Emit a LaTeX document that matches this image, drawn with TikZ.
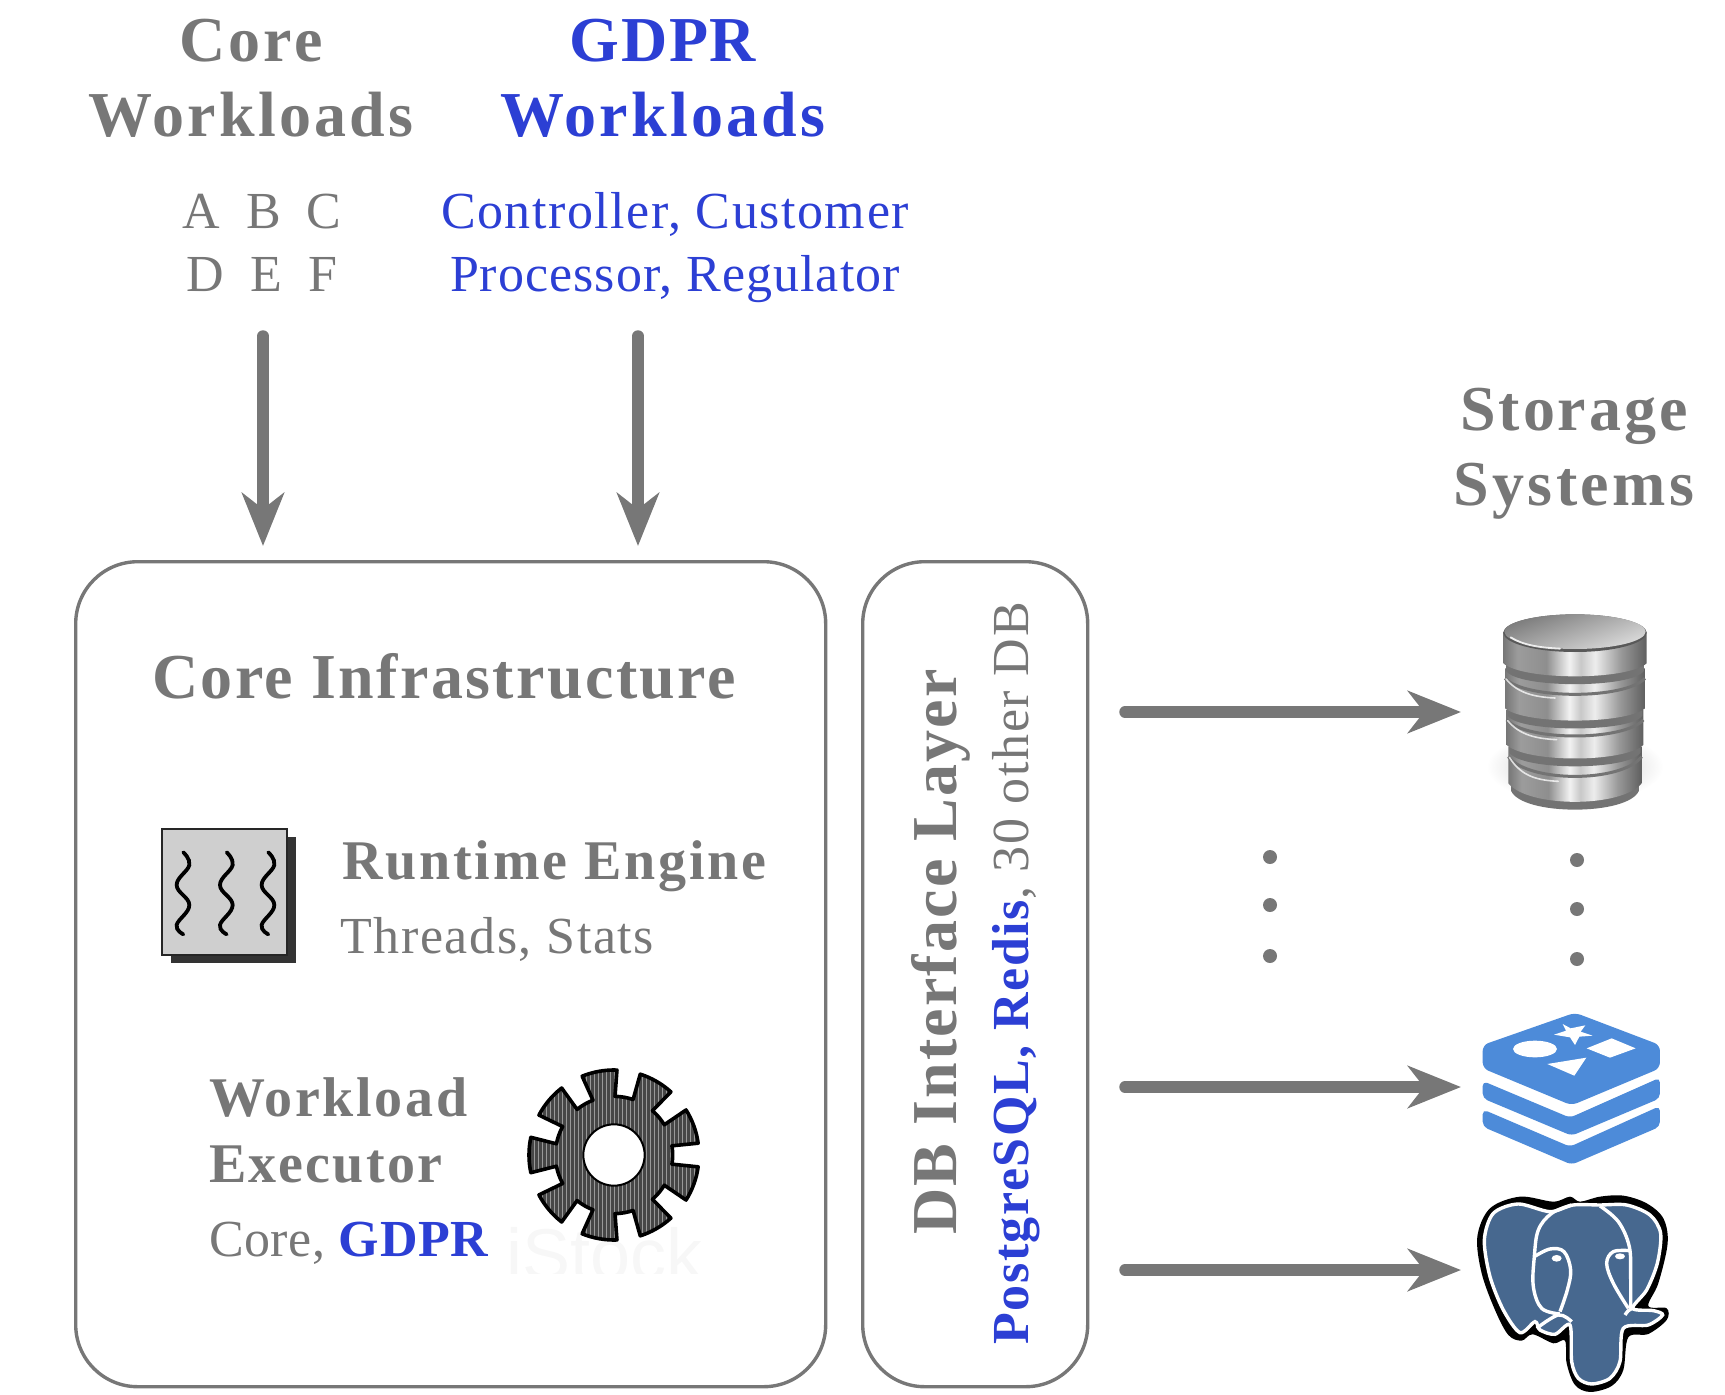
\documentclass[tikz,border=0pt]{standalone}
\usepackage{fontspec}
\setmainfont{Liberation Serif}
\setsansfont{Liberation Sans}
\usetikzlibrary{arrows.meta}
\newcommand{\lsp}[1]{\addfontfeature{LetterSpace=#1}}
\definecolor{dgray}{HTML}{777777}
\definecolor{dblue}{HTML}{2C3FD4}
\definecolor{redisblue}{HTML}{4D8BD9}
\definecolor{pgblue}{HTML}{47688F}
\definecolor{mA}{HTML}{777777}
\definecolor{mB}{HTML}{9C9C9C}
\definecolor{mC}{HTML}{8E8E8E}
\definecolor{mD}{HTML}{F2F2F2}
\definecolor{mE}{HTML}{C8C8C8}
\definecolor{mF}{HTML}{EDEDED}
\definecolor{mG}{HTML}{999999}
\definecolor{mH}{HTML}{5F5F5F}
\pgfdeclarehorizontalshading{metal}{100bp}{color(0bp)=(mA);color(25bp)=(mA);color(30bp)=(mB);color(40bp)=(mC);color(48bp)=(mD);color(52bp)=(mE);color(57bp)=(mF);color(66bp)=(mG);color(75bp)=(mH);color(100bp)=(mH)}
\newcommand{\dblayer}[5]{%
  \fill[black!55] (#1+8,#4-8) -- (#1+8,#4+22) .. controls (#1+40,#5+28) and (#2-40,#5+28) .. (#2-8,#4+22) -- (#2-8,#4-8) -- cycle;
  \shade[shading=metal] (#1,#3) -- (#1,#4) .. controls (#1+60,#5+4) and (#2-60,#5+4) .. (#2,#4) -- (#2,#3) -- cycle;
}
\newcommand{\dbrim}[4]{%
  \draw[black!55,line width=3pt] (#1,#3) .. controls (#1+60,#4+4) and (#2-60,#4+4) .. (#2,#3);
  \draw[white,opacity=.75,line width=1.6pt,line cap=round] (#1+3,#3+2) .. controls (#1+40,#4-14) and (#1+90,#4-4) .. (#1+150,#4-1);
}
\tikzset{
  headtext/.style={font=\fontsize{64}{70}\selectfont\bfseries,text=dgray,inner sep=0pt,anchor=base},
  subhead/.style={font=\fontsize{56}{60}\selectfont\bfseries,text=dgray,inner sep=0pt,anchor=base west},
  sublabel/.style={font=\fontsize{52}{60}\selectfont,text=dgray,inner sep=0pt,anchor=base},
  roundbox/.style={draw=dgray,line width=3.4pt,rounded corners=62pt},
  bigarrow/.style={draw=dgray,line width=11.5pt,line cap=round,-{Stealth[length=53pt,width=42pt,inset=16pt]}},
  dotmark/.style={circle,fill=dgray,minimum size=14pt,inner sep=0pt},
  white line/.style={draw=white,line width=3.4pt}
}
\begin{document}
\begin{tikzpicture}[x=1pt,y=-1pt]
\useasboundingbox (0,0) rectangle (1725,1395);
% headings
\node[headtext] (coreA) at (251,61) {\lsp{5}Core};
\node[headtext] (coreB) at (251,136) {\lsp{5}Workloads};
\node[headtext,text=dblue] (gdprA) at (663,61) {\lsp{2.5}GDPR};
\node[headtext,text=dblue] (gdprB) at (663,136) {\lsp{5}Workloads};
\node[sublabel] (abc) at (262,228) {A\ \ B\ \ C};
\node[sublabel] (def) at (262,291) {D\ \ E\ \ F};
\node[sublabel,text=dblue] (ctrl) at (675,228) {\lsp{3}Controller, Customer};
\node[sublabel,text=dblue] (proc) at (675,291) {\lsp{2}Processor, Regulator};
\node[headtext] (storA) at (1574,430) {\lsp{4.6}Storage};
\node[headtext] (storB) at (1574,505) {\lsp{5.2}Systems};
% boxes
\node[roundbox,minimum width=750pt,minimum height=825pt,anchor=north west] (core) at (74,560) {};
\node[roundbox,minimum width=225pt,minimum height=825pt,anchor=north west] (dbl) at (861,560) {};
\node[headtext] (infra) at (444,698) {\lsp{3.7}Core Infrastructure};
\node[subhead] (rt) at (342,879) {\lsp{5}Runtime Engine};
\node[sublabel,anchor=base west] (thr) at (340,953) {\lsp{3.1}Threads, Stats};
\node[subhead] (wlA) at (209,1116) {\lsp{4.7}Workload};
\node[subhead] (wlB) at (209,1182) {\lsp{3.9}Executor};
\node[sublabel,anchor=base west] (wlC) at (209,1256) {\lsp{1}Core, \textcolor{dblue}{\bfseries\lsp{1.4}GDPR}};
\node[headtext,rotate=90,anchor=base west] (dbt) at (956,1235) {\lsp{3.4}DB Interface Layer};
\node[sublabel,rotate=90,anchor=base west] (dbs) at (1028,1345) {\lsp{3.1}\textcolor{dblue}{\bfseries\lsp{3.1}PostgreSQL, Redis},\ 30 other DB};
% arrows
\coordinate (a1s) at (263,336); \coordinate (a1e) at (263,546);
\coordinate (a2s) at (638,336); \coordinate (a2e) at (638,546);
\coordinate (a3s) at (1125,712); \coordinate (a3e) at (1461,712);
\coordinate (a4s) at (1125,1087); \coordinate (a4e) at (1461,1087);
\coordinate (a5s) at (1125,1270); \coordinate (a5e) at (1461,1270);
\draw[bigarrow] (a1s) -- (a1e);
\draw[bigarrow] (a2s) -- (a2e);
\draw[bigarrow] (a3s) -- (a3e);
\draw[bigarrow] (a4s) -- (a4e);
\draw[bigarrow] (a5s) -- (a5e);
% dots
\node[dotmark] (d1) at (1270,857) {};
\node[dotmark] (d2) at (1270,905) {};
\node[dotmark] (d3) at (1270,956) {};
\node[dotmark] (d4) at (1577,860) {};
\node[dotmark] (d5) at (1577,909) {};
\node[dotmark] (d6) at (1577,959) {};
% threads icon
\begin{scope}[shift={(140,810)},x=.3333pt,y=-.3333pt]
\fill[black!80] (92,80) rectangle (468,460);
\draw[fill=black!19,draw=black!85,line width=1.8pt] (67,57) rectangle (442,435);
\foreach \dx in {0,130,255}{
  \draw[black,line width=3.8pt,line cap=round] plot[smooth,tension=.7] coordinates {(130+\dx,127) (148+\dx,165) (110+\dx,225) (148+\dx,285) (110+\dx,345) (130+\dx,373)};
}
\end{scope}
% gear icon
\begin{scope}[shift={(500,1050)},x=.3333pt,y=-.3333pt]
\node[inner sep=0pt,font=\sffamily\fontsize{72}{72}\selectfont,text=black!3,anchor=base west] (wm) at (20,690) {iStock};
\fill[white] (0,672) rectangle (660,720);
\begin{scope}[shift={(342,315)}]
\def\gearpath{(20-12:255) arc[start angle=20-12,end angle=20+12,radius=255]
 \foreach \a in {60,100,...,340}{ -- (\a-20-9:176) arc[start angle=\a-20-9,end angle=\a-20+9,radius=176] -- (\a-12:255) arc[start angle=\a-12,end angle=\a+12,radius=255]}
 -- (20-20-9:176) arc[start angle=-9,end angle=9,radius=176] -- cycle}
\fill[black!72] \gearpath;
\begin{scope}
\clip \gearpath;
\foreach \xx in {-264,-252,...,264}{\draw[white,line width=.5pt,opacity=.45] (\xx,-270) -- (\xx,270);}
\end{scope}
\draw[black,line width=3.6pt,line join=round] \gearpath;
\draw[black,fill=white,line width=2pt] (0,0) circle[radius=92];
\end{scope}
\end{scope}
% database icon
\begin{scope}[shift={(1440,580)},x=.3333pt,y=-.3333pt]
\shade[inner color=black!26,outer color=white] (405,560) ellipse[x radius=265,y radius=110];
\dblayer{205}{605}{500}{610}{680}
\dbrim{205}{605}{530}{605}
\dblayer{200}{610}{390}{495}{545}
\dbrim{200}{610}{420}{480}
\dblayer{195}{615}{265}{385}{430}
\dbrim{195}{615}{295}{355}
\dblayer{190}{620}{155}{250}{298}
\fill[black!65] (190,158) arc[start angle=180,end angle=360,x radius=215,y radius=55] arc[start angle=0,end angle=180,x radius=215,y radius=58] -- cycle;
\shade[top color=black!52,bottom color=black!14,shading angle=20] (405,155) ellipse[x radius=212,y radius=52];
\draw[white,opacity=.85,line width=1.8pt,line cap=round] (212,172) .. controls (250,196) and (300,203) .. (360,206);
\end{scope}
% redis icon
\begin{scope}[shift={(1440,1000)},x=.3333pt,y=-.3333pt]
\fill[redisblue,rounded corners=6pt] (405,38) -- (660,135) -- (660,205) -- (395,316) -- (128,205) -- (128,135) -- cycle;
\fill[redisblue,rounded corners=5pt] (128,243) -- (390,353) -- (660,233) -- (660,295) -- (395,407) -- (128,295) -- cycle;
\fill[redisblue,rounded corners=5pt] (128,328) -- (390,440) -- (660,318) -- (660,380) -- (395,494) -- (128,380) -- cycle;
\fill[white] (285,147) ellipse[x radius=66,y radius=25];
\fill[white] (440,145) -- (515,115) -- (587,145) -- (510,173) -- cycle;
\fill[white] (322,192) -- (439,173) -- (403,227) -- cycle;
\fill[white] (368,72) -- (392,85) -- (436,76) -- (422,95) -- (458,107) -- (418,110) -- (405,135) -- (390,112) -- (342,104) -- (378,92) -- cycle;
\end{scope}
% postgres icon
\begin{scope}[shift={(1440,1000)},x=.3333pt,y=-.3333pt]
\fill[black] plot[smooth cycle,tension=.55] coordinates {(340,605) (240,590) (150,625) (112,710) (125,820) (165,930) (205,1005) (245,1022) (278,1003) (340,1030) (375,1022) (380,1090) (405,1155) (450,1176) (515,1158) (550,1110) (565,1012) (625,1002) (680,960) (680,925) (625,918) (655,850) (683,730) (670,655) (620,610) (550,587) (480,590) (420,605) (390,590)};
\fill[pgblue] plot[smooth cycle,tension=.5] coordinates {(330,635) (235,612) (160,640) (133,720) (150,830) (190,930) (240,998) (285,965) (300,990) (345,1003) (390,975) (395,1085) (415,1135) (455,1152) (510,1135) (540,1085) (550,985) (625,975) (668,945) (640,932) (578,925) (620,870) (652,790) (662,700) (630,645) (560,615) (480,615) (400,615)};
\draw[white line] plot[smooth cycle,tension=.5] coordinates {(330,635) (235,612) (160,640) (133,720) (150,830) (190,930) (240,998) (285,965) (300,990) (345,1003) (390,975) (395,1085) (415,1135) (455,1152) (510,1135) (540,1085) (550,985) (625,975) (668,945) (640,932) (578,925) (620,870) (652,790) (662,700) (630,645) (560,615) (480,615) (400,615)};
% face contours
\draw[white line] plot[smooth,tension=.6] coordinates {(290,985) (355,945) (395,965)};
\draw[white line] plot[smooth,tension=.6] coordinates {(395,615) (335,640) (295,690) (283,770) (280,860) (305,925) (360,942)};
\draw[white line] plot[smooth,tension=.6] coordinates {(283,770) (330,747) (372,755) (392,810) (382,870) (360,935)};
\draw[white line] plot[smooth,tension=.6] coordinates {(480,618) (535,665) (568,740) (572,830) (572,925)};
\draw[white line] plot[smooth,tension=.6] coordinates {(568,752) (520,755) (500,790) (520,850) (565,925)};
\draw[white line] plot[smooth,tension=.6] coordinates {(555,945) (565,932) (578,925)};
\fill[white] (350,775) ellipse[x radius=15,y radius=10];
\fill[white] (540,769) ellipse[x radius=15,y radius=9];
\end{scope}
\end{tikzpicture}
\end{document}
